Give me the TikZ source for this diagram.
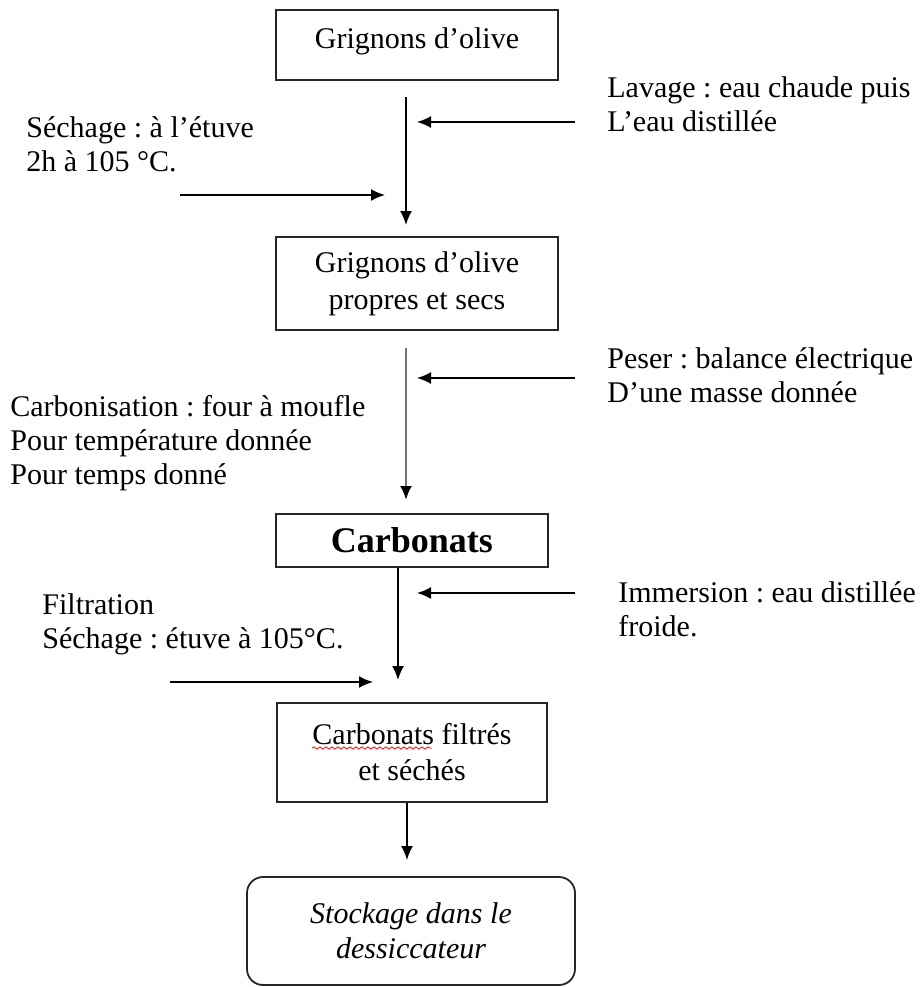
\documentclass[tikz,border=0pt]{standalone}
\usepackage{fontspec}
\setmainfont{Liberation Serif}
\usetikzlibrary{arrows.meta,decorations.pathmorphing}
\frenchspacing
\begin{document}
\begin{tikzpicture}[x=0.5pt,y=-0.5pt,
  box/.style={draw=black!85,line width=0.9pt,inner sep=0pt,align=center,
    font=\fontsize{15}{18.5}\selectfont},
  lbl/.style={inner sep=0pt,anchor=west,align=left,
    font=\fontsize{15}{17}\selectfont},
  arr/.style={draw=black,line width=0.9pt,-{Latex[length=7pt,width=6pt]}},
  grayarr/.style={draw=black!55,line width=1.3pt,-{Latex[length=7pt,width=6pt,black]}}]
\useasboundingbox (0,0) rectangle (920,987);

% boxes
\node[box,minimum width=141pt,minimum height=35pt,text height=10pt,text depth=7pt] (b1) at (417,45) {Grignons d’olive};
\node[box,minimum width=141pt,minimum height=46.5pt] (b2) at (417,283.5) {Grignons d’olive\\propres et secs};
\node[box,minimum width=136pt,minimum height=26.5pt,font=\fontsize{18}{20}\selectfont\bfseries] (b3) at (412,540.5) {Carbonats};
\node[box,minimum width=135pt,minimum height=49.5pt,font=\fontsize{15}{18}\selectfont] (b4) at (412,752.5) {Carbonats filtrés\\et séchés};
\node[box,rounded corners=8pt,minimum width=164pt,minimum height=54pt,font=\fontsize{15}{17.5}\selectfont\itshape] (b5) at (411,931) {Stockage dans le\\dessiccateur};

% spell-check mark
\draw[red,line width=0.4pt,decorate,decoration={snake,amplitude=0.6pt,segment length=3pt}] (312,748) -- (432,748);

% side labels
\node[lbl] (lav) at (607,104) {Lavage : eau chaude puis\\L’eau distillée};
\node[lbl] (sec1) at (26,144) {Séchage : à l’étuve\\2h à 105 °C.};
\node[lbl] (pes) at (607,375) {Peser : balance électrique\\D’une masse donnée};
\node[lbl] (carb) at (10,443) {Carbonisation : four à moufle\\Pour température donnée\\Pour temps donné};
\node[lbl] (imm) at (618,609.5) {Immersion : eau distillée\\froide.};
\node[lbl] (fil) at (42,624.5) {Filtration\\Séchage : étuve à 105°C.};

% coordinates for connectors
\coordinate (v1a) at (406,97);  \coordinate (v1b) at (406,225);
\coordinate (v2a) at (406,348); \coordinate (v2b) at (406,500);
\coordinate (v3b) at (398,680);
\coordinate (v4b) at (407,860);
\coordinate (s1a) at (575,122); \coordinate (s1b) at (417,122);
\coordinate (s2a) at (180,195); \coordinate (s2b) at (385,195);
\coordinate (s3a) at (575,378); \coordinate (s3b) at (417,378);
\coordinate (s4a) at (575,593); \coordinate (s4b) at (417,593);
\coordinate (s5a) at (170,682); \coordinate (s5b) at (373,682);

% main flow
\draw[arr] (v1a) -- (v1b);
\draw[grayarr] (v2a) -- (v2b);
\draw[arr] (b3.south -| v3b) -- (v3b);
\draw[arr] (b4.south -| v4b) -- (v4b);

% side inputs
\draw[arr] (s1a) -- (s1b);
\draw[arr] (s2a) -- (s2b);
\draw[arr] (s3a) -- (s3b);
\draw[arr] (s4a) -- (s4b);
\draw[arr] (s5a) -- (s5b);
\end{tikzpicture}
\end{document}
